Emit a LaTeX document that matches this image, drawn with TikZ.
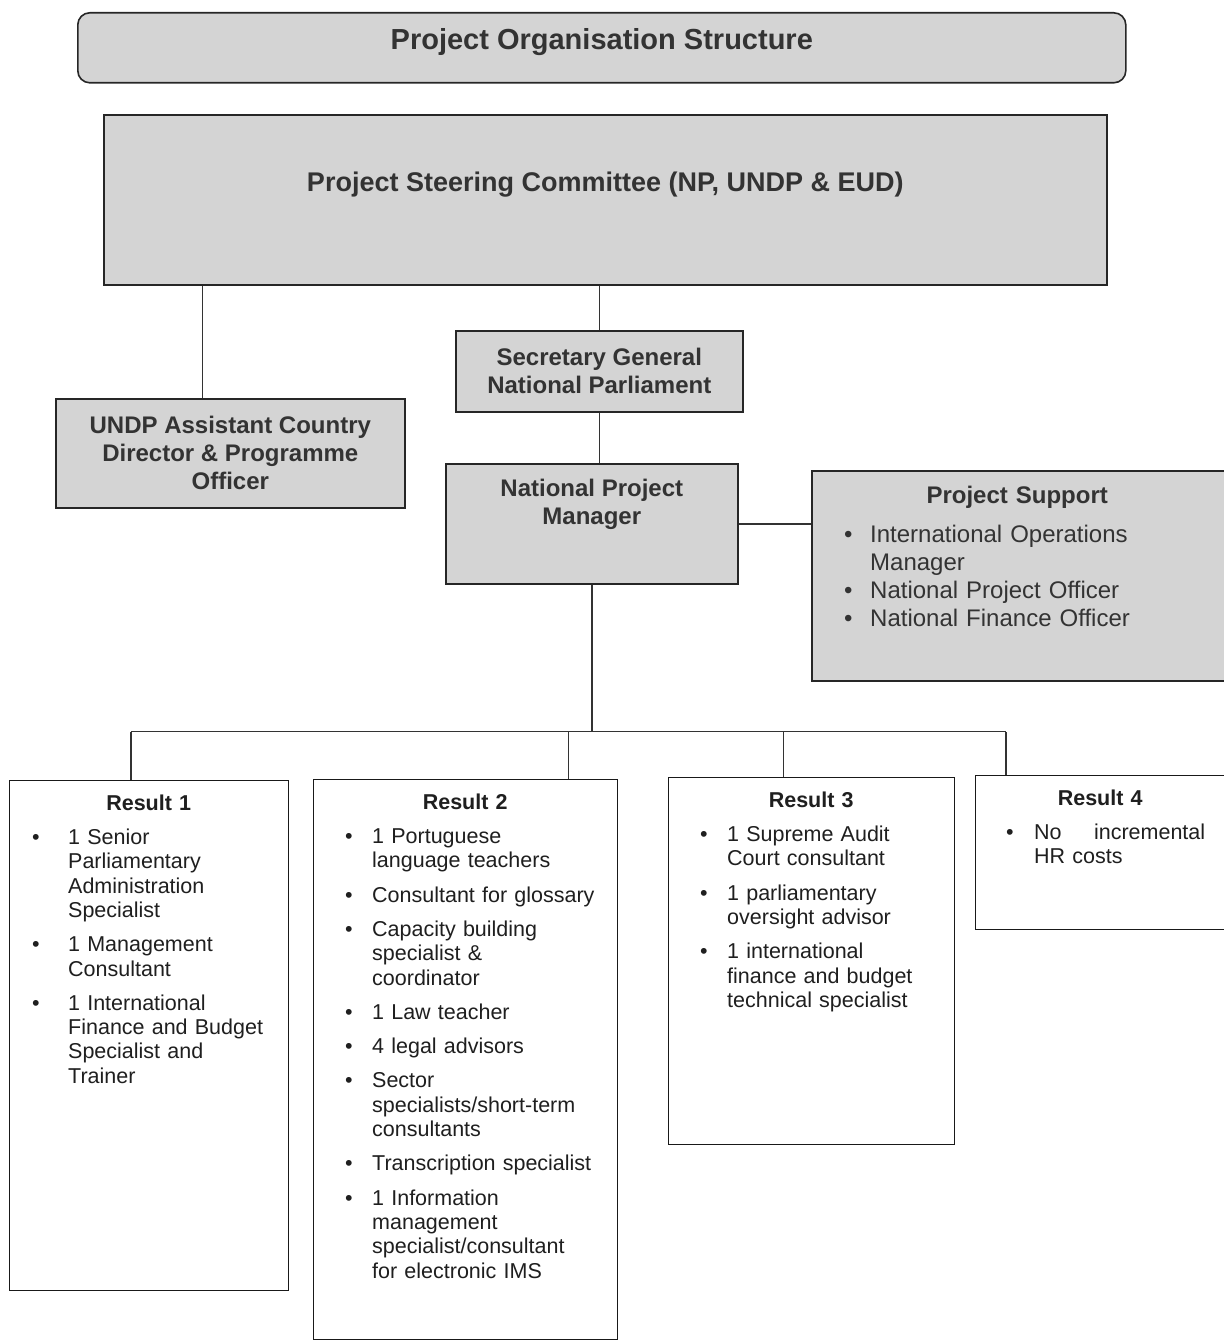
\documentclass[tikz,border=0pt]{standalone}
\usepackage{fontspec}
\setmainfont{Liberation Sans}
\usetikzlibrary{positioning}

\definecolor{boxfill}{gray}{0.83}
\definecolor{headink}{gray}{0.2}
\definecolor{wireink}{gray}{0.2}

\newlength\itemgap
\setlength\itemgap{10pt}
\newcommand{\restitle}[1]{{\centering\noindent\bfseries\rule{0pt}{30pt}#1\par}}
\newcommand{\resitem}[2][36pt]{\par\vspace{\itemgap}\hangindent=59pt\hangafter=1\noindent
  \makebox[59pt][l]{\hspace{\dimexpr#1-4pt\relax}\textbullet}{\def\\{\hfil\break}#2}\par}

\begin{document}
\begin{tikzpicture}[x=1pt, y=-1pt,
    head box/.style={draw=black!85, line width=1.6pt, fill=boxfill, inner sep=0pt, anchor=north west},
    result box/.style={draw=black!90, line width=1.3pt, fill=white, inner sep=0pt, anchor=north west},
    head text/.style={text=headink, font=\fontsize{24}{28}\selectfont\bfseries, align=center, inner sep=0pt},
    result text/.style={text=black!88, font=\fontsize{21.5}{24.3}\selectfont, align=left, inner sep=0pt, anchor=north west},
    wire/.style={draw=wireink, line width=1.5pt}]

  \useasboundingbox (0,0) rectangle (1223,1343);

  % upper part
  \node[head box, rounded corners=12pt, minimum width=1048pt, minimum height=70pt] (title) at (77,12) {};
  \node[head text, font=\fontsize{29}{34}\selectfont\bfseries] (titletext) at ([yshift=6pt]title.center) {Project Organisation Structure};

  \node[head box, minimum width=1003pt, minimum height=170pt] (steer) at (103,114) {};
  \node[head text, font=\fontsize{27}{32}\selectfont\bfseries] (steertext) at ([yshift=15pt]steer.center) {Project Steering Committee (NP, UNDP \& EUD)};

  \node[head box, head text, minimum width=287pt, minimum height=81pt] (sg) at (455,330) {Secretary General\\National Parliament};
  \node[head box, head text, minimum width=349pt, minimum height=109pt] (undp) at (55,398) {UNDP Assistant Country\\Director \& Programme\\Officer};

  \node[head box, minimum width=292pt, minimum height=120pt] (npm) at (445,463) {};
  \node[head text, anchor=north] (npmtext) at ([yshift=-16pt]npm.north) {National Project\\Manager};

  \node[head box, minimum width=420pt, minimum height=210pt] (ps) at (811,470) {};
  \node[result text, text width=412pt, text=headink, font=\fontsize{24}{28}\selectfont] (pstext) at (ps.north west)
    {\setlength\itemgap{0pt}{\centering\noindent\bfseries\rule{0pt}{33pt}Project Support\par}\vspace{11pt}%
     \resitem[37pt]{International Operations\\Manager}%
     \resitem[37pt]{National Project Officer}%
     \resitem[37pt]{National Finance Officer}};

  % results
  \node[result box, minimum width=279pt, minimum height=510pt] (r1) at (9,780) {};
  \node[result text, text width=279pt] (r1text) at (r1.north west)
    {\restitle{Result 1}%
     \resitem[27pt]{1 Senior\\Parliamentary\\Administration\\Specialist}%
     \resitem[27pt]{1 Management\\Consultant}%
     \resitem[27pt]{1 International\\Finance and Budget\\Specialist and\\Trainer}};

  \node[result box, minimum width=304pt, minimum height=560pt] (r2) at (313,779) {};
  \node[result text, text width=304pt] (r2text) at (r2.north west)
    {\restitle{Result 2}%
     \resitem{1 Portuguese\\language teachers}%
     \resitem{Consultant for glossary}%
     \resitem{Capacity building\\specialist \&\\coordinator}%
     \resitem{1 Law teacher}%
     \resitem{4 legal advisors}%
     \resitem{Sector\\specialists/short-term\\consultants}%
     \resitem{Transcription specialist}%
     \resitem{1 Information\\management\\specialist/consultant\\for electronic IMS}};

  \node[result box, minimum width=286pt, minimum height=367pt] (r3) at (668,777) {};
  \node[result text, text width=286pt] (r3text) at (r3.north west)
    {\restitle{Result 3}%
     \resitem{1 Supreme Audit\\Court consultant}%
     \resitem{1 parliamentary\\oversight advisor}%
     \resitem{1 international\\finance and budget\\technical specialist}};

  \node[result box, minimum width=260pt, minimum height=154pt] (r4) at (975,775) {};
  \node[result text, text width=250pt] (r4text) at (r4.north west)
    {\restitle{Result 4}%
     \resitem[35pt]{\makebox[171pt]{No\hfill incremental}\\HR costs}};

  % connectors
  \coordinate (undptop) at ([xshift=-28pt]undp.north);
  \draw[wire] (undptop) -- (undptop |- steer.south);
  \draw[wire] (sg.north) -- (sg.north |- steer.south);
  \draw[wire] (sg.south) -- (sg.south |- npm.north);
  \draw[wire] (npm.east) -- (npm.east -| ps.west);

  \coordinate (bus) at ([yshift=-147pt]npm.south);
  \coordinate (d1) at ([xshift=-18pt]r1.north);
  \coordinate (d2) at ([xshift=103pt]r2.north);
  \coordinate (d3) at ([xshift=-28pt]r3.north);
  \coordinate (d4) at ([xshift=31pt]r4.north west);
  \draw[wire] (npm.south) -- (bus);
  \draw[wire] (d1 |- bus) -- (d4 |- bus);
  \draw[wire] (d1) -- (d1 |- bus);
  \draw[wire] (d2) -- (d2 |- bus);
  \draw[wire] (d3) -- (d3 |- bus);
  \draw[wire] (d4) -- (d4 |- bus);

\end{tikzpicture}
\end{document}
